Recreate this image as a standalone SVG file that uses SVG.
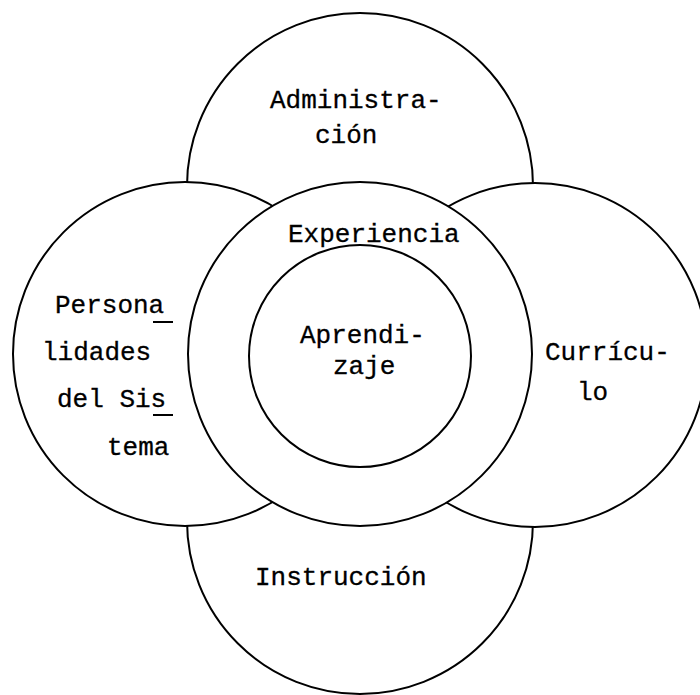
<svg xmlns="http://www.w3.org/2000/svg" width="700" height="695" viewBox="0 0 700 695">
<style>
.c{fill:#fff;stroke:#000;stroke-width:2}
.t{font-family:"Liberation Mono","Courier New",monospace;font-size:26px;fill:#000;stroke:#000;stroke-width:0.3}
.u{stroke:#000;stroke-width:2}
</style>
<rect width="700" height="695" fill="#fff"/>
<g id="administracion">
<circle class="c" cx="360" cy="186" r="173"/>
<text class="t" x="270" y="108">Administra-</text>
<text class="t" x="315" y="143">ción</text>
</g>
<g id="instruccion">
<circle class="c" cx="360" cy="521" r="173"/>
<text class="t" x="255" y="585">Instrucción</text>
</g>
<g id="personalidades">
<circle class="c" cx="185" cy="354" r="172"/>
<text class="t" x="55" y="313">Persona</text>
<line class="u" x1="153" y1="322" x2="173" y2="322"/>
<text class="t" x="42" y="360">lidades</text>
<text class="t" x="57" y="407">del Sis</text>
<line class="u" x1="153" y1="415" x2="173" y2="415"/>
<text class="t" x="107" y="455">tema</text>
</g>
<g id="curriculo">
<circle class="c" cx="535" cy="355" r="172"/>
<text class="t" x="545" y="360">Currícu-</text>
<text class="t" x="577" y="400">lo</text>
</g>
<g id="experiencia">
<circle class="c" cx="360" cy="354" r="172"/>
<text class="t" x="288" y="242">Experiencia</text>
</g>
<g id="aprendizaje">
<circle class="c" cx="360" cy="356" r="111"/>
<text class="t" x="300" y="343">Aprendi-</text>
<text class="t" x="333" y="374">zaje</text>
</g>
<g id="connectors"></g>
</svg>
